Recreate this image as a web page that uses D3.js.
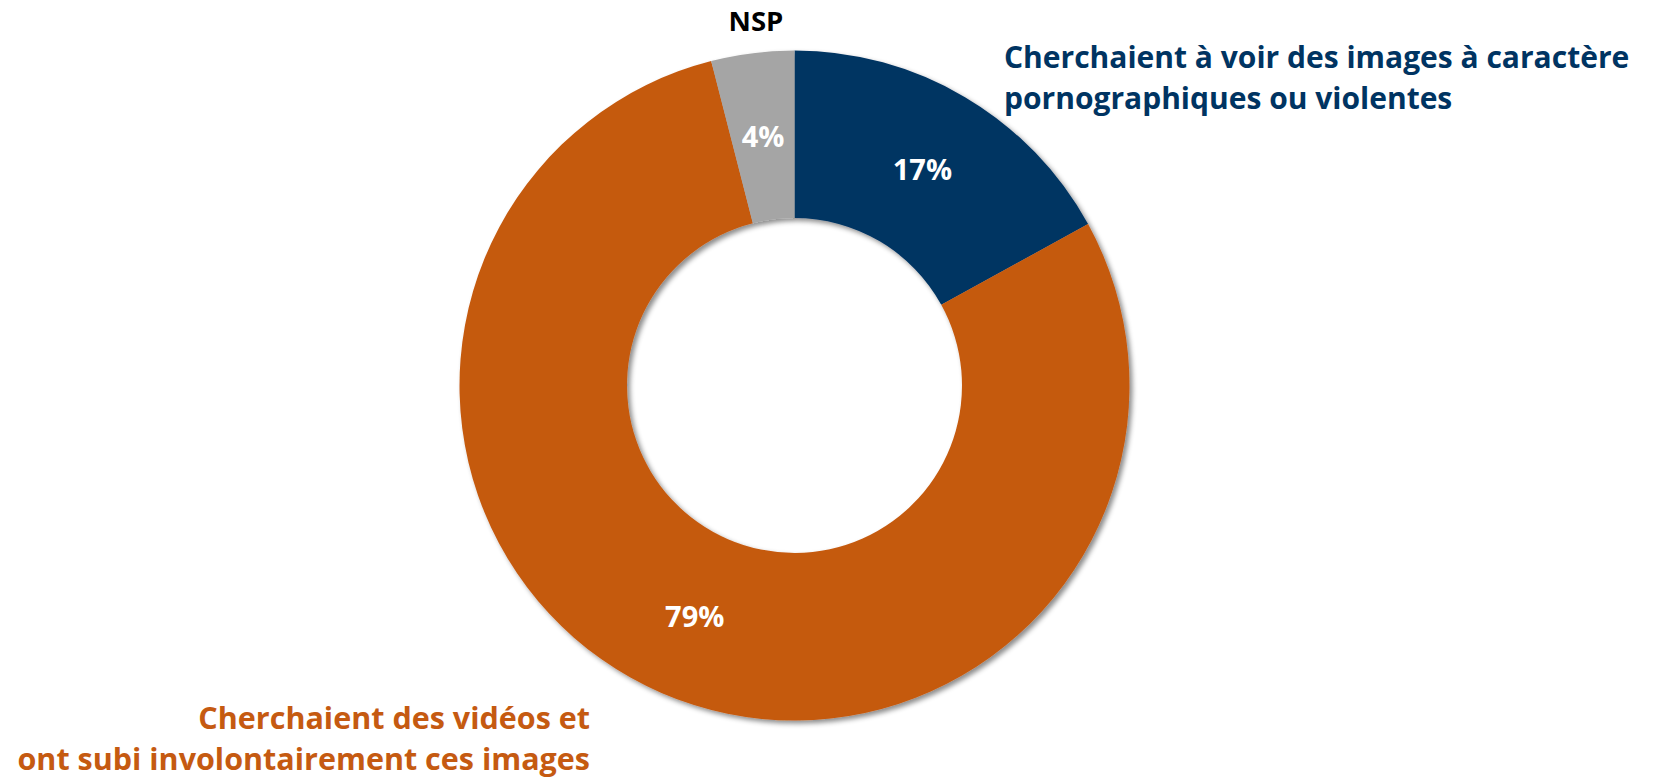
<!DOCTYPE html>
<html>
<head>
<meta charset="utf-8">
<script src="https://cdn.jsdelivr.net/npm/d3@7"></script>
<style>
  body { margin: 0; background: #fff; }
  svg { display: block; font-family: "Open Sans", "Noto Sans", sans-serif; font-weight: bold; }
</style>
</head>
<body>
<svg id="chart" width="1662" height="779"></svg>
<script>
// data
var categories = ["Cherchaient à voir des images à caractère pornographiques ou violentes",
                  "Cherchaient des vidéos et ont subi involontairement ces images",
                  "NSP"];
var values = [17, 79, 4];
var colors = ["#003462", "#C55A11", "#A5A5A5"];
var labelLines = [
    ["Cherchaient à voir des images à caractère", "pornographiques ou violentes"],
    ["Cherchaient des vidéos et", "ont subi involontairement ces images"],
    ["NSP"]
];

var svg = d3.select("#chart");
var cx = 794.5, cy = 385.5;
var outerR = 335, innerR = 167.5;

// shadow on the ring
var defs = svg.append("defs");
var filter = defs.append("filter")
    .attr("id", "shadow")
    .attr("x", "-10%").attr("y", "-10%")
    .attr("width", "120%").attr("height", "120%");
filter.append("feDropShadow")
    .attr("dx", 3).attr("dy", 3)
    .attr("stdDeviation", 2.5)
    .attr("flood-color", "#000")
    .attr("flood-opacity", 0.45);

var pie = d3.pie().sort(null).value(function(d) { return d; });
var arc = d3.arc().innerRadius(innerR).outerRadius(outerR);

var arcs = pie(values);

var g = svg.append("g").attr("transform", "translate(" + cx + "," + cy + ")");

g.append("g")
    .attr("filter", "url(#shadow)")
    .selectAll("path")
    .data(arcs)
    .enter().append("path")
    .attr("d", arc)
    .attr("fill", function(d, i) { return colors[i]; });

// percentage labels
g.selectAll("text.pct")
    .data(arcs)
    .enter().append("text")
    .attr("class", "pct")
    .attr("transform", function(d) { return "translate(" + arc.centroid(d) + ")"; })
    .attr("text-anchor", "middle")
    .attr("dy", "0.36em")
    .attr("font-size", 29)
    .attr("fill", "#fff")
    .text(function(d) { return d.data + "%"; });

// category labels
var labelPos = [
    {x: 1004, y: 68, anchor: "start", size: 30, gap: 41, color: colors[0]},
    {x: 590, y: 729, anchor: "end", size: 30.5, gap: 41, color: colors[1]},
    {x: 756, y: 31, anchor: "middle", size: 27.5, gap: 0, color: "#000"}
];

labelLines.forEach(function(lines, i) {
    var p = labelPos[i];
    var t = svg.append("text")
        .attr("text-anchor", p.anchor)
        .attr("font-size", p.size)
        .attr("fill", p.color);
    lines.forEach(function(line, j) {
        t.append("tspan")
            .attr("x", p.x)
            .attr("y", p.y + j * p.gap)
            .text(line);
    });
});
</script>
</body>
</html>
